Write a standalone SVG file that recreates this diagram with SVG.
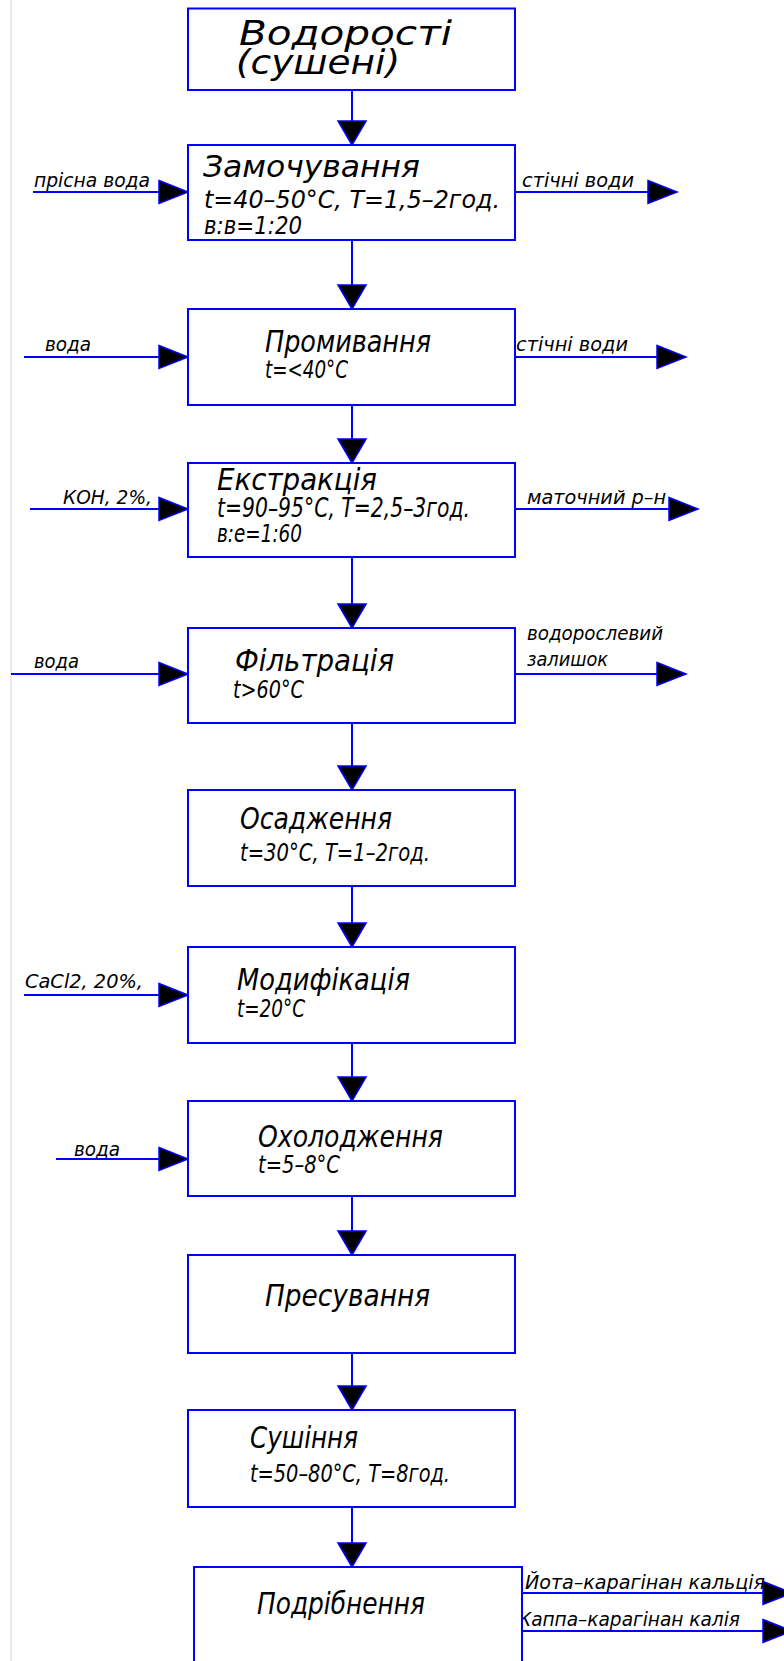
<svg xmlns="http://www.w3.org/2000/svg" width="784" height="1661" viewBox="0 0 784 1661">
<style>
.box{fill:#fff;stroke:#0000ff;stroke-width:2}
.ln{stroke:#0000ff;stroke-width:2;fill:none}
text{font-family:"Liberation Sans Narrow","DejaVu Sans Condensed","Liberation Sans",sans-serif;font-style:italic;fill:#000}
.t1{font-size:33px}
.t2{font-size:31px}
.p{font-size:25px}
.s{font-size:19px}
</style>
<defs>
<marker id="ah" markerUnits="userSpaceOnUse" markerWidth="33" markerHeight="27" refX="31" refY="13.5" orient="auto">
<path d="M2,2 L31,13.5 L2,25 z" fill="#000" stroke="#0000ff" stroke-width="1.5"/>
</marker>
<marker id="av" markerUnits="userSpaceOnUse" markerWidth="28" markerHeight="32" refX="26" refY="16" orient="auto">
<path d="M2,2 L26,16 L2,30 z" fill="#000" stroke="#0000ff" stroke-width="1.5"/>
</marker>
</defs>
<rect width="784" height="1661" fill="#fff"/>
<line x1="11" y1="0" x2="11" y2="1661" stroke="#d8d8d8" stroke-width="1"/>

<g id="connectors">
<line class="ln" x1="352" y1="90" x2="352" y2="145" marker-end="url(#av)"/>
<line class="ln" x1="352" y1="240" x2="352" y2="309" marker-end="url(#av)"/>
<line class="ln" x1="352" y1="405" x2="352" y2="463" marker-end="url(#av)"/>
<line class="ln" x1="352" y1="557" x2="352" y2="628" marker-end="url(#av)"/>
<line class="ln" x1="352" y1="723" x2="352" y2="790" marker-end="url(#av)"/>
<line class="ln" x1="352" y1="886" x2="352" y2="947" marker-end="url(#av)"/>
<line class="ln" x1="352" y1="1043" x2="352" y2="1101" marker-end="url(#av)"/>
<line class="ln" x1="352" y1="1196" x2="352" y2="1255" marker-end="url(#av)"/>
<line class="ln" x1="352" y1="1353" x2="352" y2="1410" marker-end="url(#av)"/>
<line class="ln" x1="352" y1="1507" x2="352" y2="1567" marker-end="url(#av)"/>

<line class="ln" x1="33" y1="192" x2="188" y2="192" marker-end="url(#ah)"/>
<line class="ln" x1="515" y1="192" x2="677" y2="192" marker-end="url(#ah)"/>
<line class="ln" x1="24" y1="357" x2="188" y2="357" marker-end="url(#ah)"/>
<line class="ln" x1="515" y1="357" x2="686" y2="357" marker-end="url(#ah)"/>
<line class="ln" x1="30" y1="509" x2="188" y2="509" marker-end="url(#ah)"/>
<line class="ln" x1="515" y1="509" x2="698" y2="509" marker-end="url(#ah)"/>
<line class="ln" x1="11" y1="674" x2="188" y2="674" marker-end="url(#ah)"/>
<line class="ln" x1="515" y1="674" x2="686" y2="674" marker-end="url(#ah)"/>
<line class="ln" x1="24" y1="995" x2="188" y2="995" marker-end="url(#ah)"/>
<line class="ln" x1="56" y1="1159" x2="188" y2="1159" marker-end="url(#ah)"/>
<line class="ln" x1="522" y1="1593" x2="792" y2="1593" marker-end="url(#ah)"/>
<line class="ln" x1="522" y1="1631" x2="792" y2="1631" marker-end="url(#ah)"/>

<text class="s" x="34" y="187" textLength="116" lengthAdjust="spacingAndGlyphs">прісна вода</text>
<text class="s" x="522" y="187" textLength="112" lengthAdjust="spacingAndGlyphs">стічні води</text>
<text class="s" x="45" y="351" textLength="46" lengthAdjust="spacingAndGlyphs">вода</text>
<text class="s" x="516" y="351" textLength="112" lengthAdjust="spacingAndGlyphs">стічні води</text>
<text class="s" x="63" y="504" textLength="89" lengthAdjust="spacingAndGlyphs">КОН, 2%,</text>
<text class="s" x="527" y="504" textLength="139" lengthAdjust="spacingAndGlyphs">маточний р–н</text>
<text class="s" x="34" y="668" textLength="45" lengthAdjust="spacingAndGlyphs">вода</text>
<text class="s" x="527" y="640" textLength="136" lengthAdjust="spacingAndGlyphs">водорослевий</text>
<text class="s" x="527" y="666" textLength="81" lengthAdjust="spacingAndGlyphs">залишок</text>
<text class="s" x="25" y="988" textLength="118" lengthAdjust="spacingAndGlyphs">CaCl2, 20%,</text>
<text class="s" x="74" y="1156" textLength="46" lengthAdjust="spacingAndGlyphs">вода</text>
<text class="s" x="525" y="1589" textLength="240" lengthAdjust="spacingAndGlyphs">Йота–карагінан кальція</text>
<text class="s" x="518" y="1626" textLength="222" lengthAdjust="spacingAndGlyphs">Каппа–карагінан калія</text>
</g>

<g id="n1">
<rect class="box" x="188" y="8.5" width="327" height="81.5"/>
<text class="t1" x="239" y="45" textLength="213" lengthAdjust="spacingAndGlyphs">Водорості</text>
<text class="t1" x="236" y="74" textLength="164" lengthAdjust="spacingAndGlyphs">(сушені)</text>
</g>
<g id="n2">
<rect class="box" x="188" y="145" width="327" height="95"/>
<text class="t2" style="font-size:30px" x="203" y="177" textLength="217" lengthAdjust="spacingAndGlyphs">Замочування</text>
<text class="p" x="204" y="208" textLength="296" lengthAdjust="spacingAndGlyphs">t=40–50°C,  T=1,5–2год.</text>
<text class="p" x="204" y="234" textLength="98" lengthAdjust="spacingAndGlyphs">в:в=1:20</text>
</g>
<g id="n3">
<rect class="box" x="188" y="309" width="327" height="96"/>
<text class="t2" x="265" y="352" textLength="166" lengthAdjust="spacingAndGlyphs">Промивання</text>
<text class="p" x="265" y="378" textLength="83" lengthAdjust="spacingAndGlyphs">t=&lt;40°C</text>
</g>
<g id="n4">
<rect class="box" x="188" y="463" width="327" height="94"/>
<text class="t2" x="217" y="490" textLength="160" lengthAdjust="spacingAndGlyphs">Екстракція</text>
<text class="p" style="font-size:26px" x="217" y="517" textLength="253" lengthAdjust="spacingAndGlyphs">t=90–95°C,  T=2,5–3год.</text>
<text class="p" x="217" y="542" textLength="85" lengthAdjust="spacingAndGlyphs">в:е=1:60</text>
</g>
<g id="n5">
<rect class="box" x="188" y="628" width="327" height="95"/>
<text class="t2" x="235" y="671" textLength="159" lengthAdjust="spacingAndGlyphs">Фільтрація</text>
<text class="p" x="233" y="698" textLength="71" lengthAdjust="spacingAndGlyphs">t&gt;60°C</text>
</g>
<g id="n6">
<rect class="box" x="188" y="790" width="327" height="96"/>
<text class="t2" x="240" y="829" textLength="152" lengthAdjust="spacingAndGlyphs">Осадження</text>
<text class="p" x="240" y="861" textLength="190" lengthAdjust="spacingAndGlyphs">t=30°C,  T=1–2год.</text>
</g>
<g id="n7">
<rect class="box" x="188" y="947" width="327" height="96"/>
<text class="t2" x="237" y="990" textLength="173" lengthAdjust="spacingAndGlyphs">Модифікація</text>
<text class="p" x="237" y="1017" textLength="68" lengthAdjust="spacingAndGlyphs">t=20°C</text>
</g>
<g id="n8">
<rect class="box" x="188" y="1101" width="327" height="95"/>
<text class="t2" x="258" y="1147" textLength="185" lengthAdjust="spacingAndGlyphs">Охолодження</text>
<text class="p" x="258" y="1173" textLength="82" lengthAdjust="spacingAndGlyphs">t=5–8°C</text>
</g>
<g id="n9">
<rect class="box" x="188" y="1255" width="327" height="98"/>
<text class="t2" x="265" y="1306" textLength="165" lengthAdjust="spacingAndGlyphs">Пресування</text>
</g>
<g id="n10">
<rect class="box" x="188" y="1410" width="327" height="97"/>
<text class="t2" x="250" y="1448" textLength="108" lengthAdjust="spacingAndGlyphs">Сушіння</text>
<text class="p" x="250" y="1482" textLength="200" lengthAdjust="spacingAndGlyphs">t=50–80°C, T=8год.</text>
</g>
<g id="n11">
<rect class="box" x="194" y="1567" width="328" height="100"/>
<text class="t2" x="257" y="1614" textLength="168" lengthAdjust="spacingAndGlyphs">Подрібнення</text>
</g>
</svg>
